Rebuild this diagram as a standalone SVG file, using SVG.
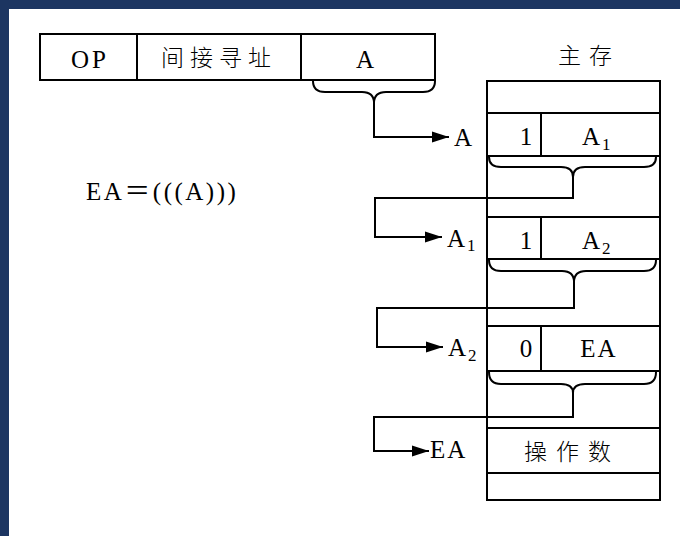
<svg xmlns="http://www.w3.org/2000/svg" width="680" height="536" viewBox="0 0 680 536">
  <defs>
    <style>
      .ln { fill: none; stroke: #000; stroke-width: 2; }
      .box { fill: #fff; stroke: #000; stroke-width: 2; }
      .t { font-family: "Liberation Serif", "Times New Roman", serif; font-size: 25px; fill: #000; }
      .sub { font-family: "Liberation Serif", "Times New Roman", serif; font-size: 17px; fill: #000; }
      .cn { font-family: "Noto Sans CJK SC", "Noto Sans", sans-serif; font-size: 23px; fill: #000; font-weight: 300; }
    </style>
    <marker id="arrow" markerUnits="userSpaceOnUse" markerWidth="17" markerHeight="12" refX="17" refY="6" orient="auto">
      <path d="M0,0.5 L17,6 L0,11.5 z" fill="#000"/>
    </marker>
  </defs>

  <!-- page frame -->
  <rect x="0" y="0" width="680" height="536" fill="#1c3561"/>
  <rect x="9" y="9" width="671" height="527" fill="#fff"/>

  <!-- instruction word -->
  <g id="instruction">
    <rect class="box" x="40" y="34" width="395" height="46"/>
    <line class="ln" x1="137" y1="34" x2="137" y2="80"/>
    <line class="ln" x1="301" y1="34" x2="301" y2="80"/>
    <text class="t" x="90" y="68" text-anchor="middle" letter-spacing="3">OP</text>
    <text class="cn" x="219" y="66" text-anchor="middle" letter-spacing="6">间接寻址</text>
    <text class="t" x="365" y="68" text-anchor="middle">A</text>
  </g>

  <!-- formula -->
  <g id="formula">
    <text class="t" x="86" y="200" font-size="26" letter-spacing="2.5">EA<tspan font-family="Noto Sans CJK SC, sans-serif" font-size="26">＝</tspan>(((A)))</text>
  </g>

  <!-- main memory -->
  <g id="memory">
    <text class="cn" x="589" y="64" text-anchor="middle" letter-spacing="8">主存</text>
    <rect class="box" x="487" y="81" width="173" height="419"/>
    <line class="ln" x1="487" y1="113" x2="660" y2="113"/>
    <line class="ln" x1="487" y1="156" x2="660" y2="156"/>
    <line class="ln" x1="487" y1="217" x2="660" y2="217"/>
    <line class="ln" x1="487" y1="259" x2="660" y2="259"/>
    <line class="ln" x1="487" y1="326" x2="660" y2="326"/>
    <line class="ln" x1="487" y1="371" x2="660" y2="371"/>
    <line class="ln" x1="487" y1="428" x2="660" y2="428"/>
    <line class="ln" x1="487" y1="473" x2="660" y2="473"/>
  </g>

  <g id="cell-a">
    <line class="ln" x1="541" y1="113" x2="541" y2="156"/>
    <text class="t" x="526" y="145" text-anchor="middle">1</text>
    <text class="t" x="582" y="145">A</text>
    <text class="sub" x="602" y="150">1</text>
  </g>

  <g id="cell-a1">
    <line class="ln" x1="541" y1="217" x2="541" y2="259"/>
    <text class="t" x="526" y="249" text-anchor="middle">1</text>
    <text class="t" x="582" y="249">A</text>
    <text class="sub" x="602" y="254">2</text>
  </g>

  <g id="cell-a2">
    <line class="ln" x1="541" y1="326" x2="541" y2="371"/>
    <text class="t" x="526" y="357" text-anchor="middle">0</text>
    <text class="t" x="599" y="357" text-anchor="middle" letter-spacing="2">EA</text>
  </g>

  <g id="cell-ea">
    <text class="cn" x="572" y="460" text-anchor="middle" letter-spacing="9">操作数</text>
  </g>

  <!-- address labels -->
  <g id="labels">
    <text class="t" x="454" y="146">A</text>
    <text class="t" x="447" y="247">A</text>
    <text class="sub" x="467" y="251">1</text>
    <text class="t" x="448" y="356">A</text>
    <text class="sub" x="468" y="361">2</text>
    <text class="t" x="430" y="458" letter-spacing="2">EA</text>
  </g>

  <!-- braces and pointer arrows -->
  <g id="connectors">
    <path class="ln" d="M313,81 Q313,92 325,92 L362,92 Q374,92 374,103 Q374,92 386,92 L423,92 Q435,92 435,81"/>
    <path class="ln" d="M374,103 V137 H449" marker-end="url(#arrow)"/>

    <path class="ln" d="M489,157 Q489,167 501,167 L561,167 Q573,167 573,177 Q573,167 585,167 L644,167 Q656,167 656,157"/>
    <path class="ln" d="M573,177 V198 H375 V237 H442" marker-end="url(#arrow)"/>

    <path class="ln" d="M489,260 Q489,271 501,271 L562,271 Q574,271 574,282 Q574,271 586,271 L644,271 Q656,271 656,260"/>
    <path class="ln" d="M574,282 V308 H377 V347 H443" marker-end="url(#arrow)"/>

    <path class="ln" d="M489,372 Q489,384 501,384 L561,384 Q573,384 573,393 Q573,384 585,384 L644,384 Q656,384 656,372"/>
    <path class="ln" d="M573,393 V417 H374 V451 H429" marker-end="url(#arrow)"/>
  </g>
</svg>
